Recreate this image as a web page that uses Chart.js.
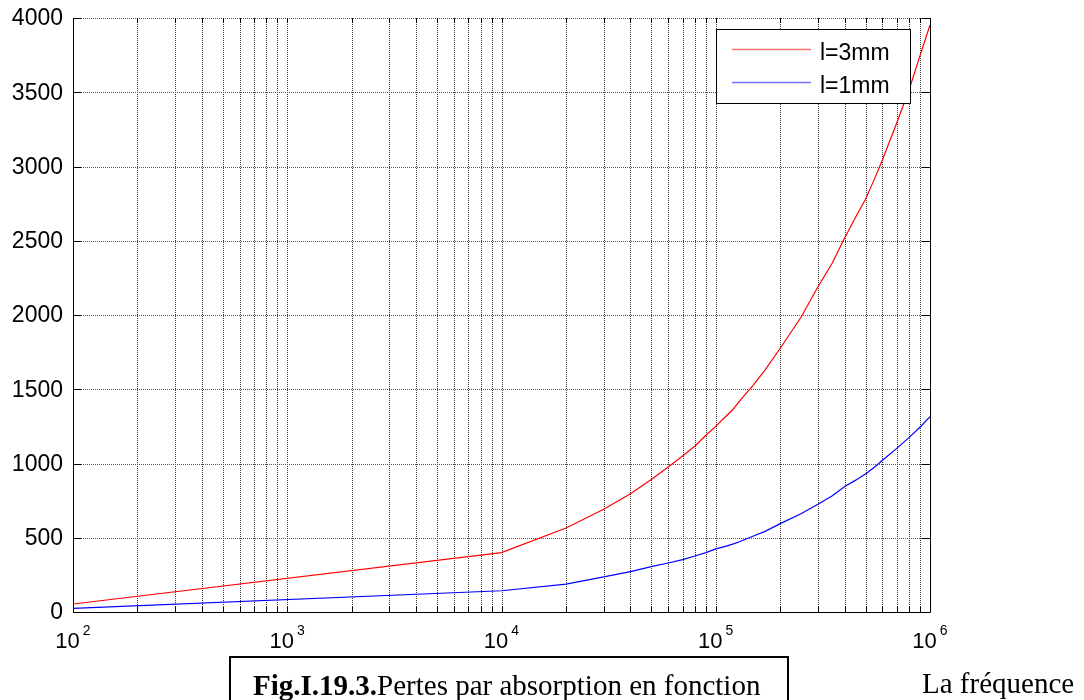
<!DOCTYPE html>
<html>
<head>
<meta charset="utf-8">
<script src="https://cdn.jsdelivr.net/npm/chart.js@4/dist/chart.umd.min.js"></script>
<style>
  html, body { margin: 0; padding: 0; background: #fff; width: 1084px; height: 700px; overflow: hidden; }
  #wrap { position: relative; width: 1084px; height: 700px; }
  canvas { position: absolute; left: 0; top: 0; }
  #caption { position: absolute; left: 229px; top: 656px; width: 556px; height: 60px; border: 2px solid #000; box-sizing: content-box;
    font-family: "Liberation Serif", "Times New Roman", serif; font-size: 29px; color: #000; white-space: nowrap; }
  #caption span.t { position: absolute; left: 22px; top: 11px; }
  #freq { position: absolute; left: 922px; top: 667px; font-family: "Liberation Serif", "Times New Roman", serif; font-size: 29px; color: #000; white-space: nowrap; }
</style>
</head>
<body>
<div id="wrap">
  <canvas id="c" width="1084" height="700"></canvas>
  <div id="caption"><span class="t"><b>Fig.I.19.3.</b>Pertes par absorption en fonction</span></div>
  <div id="freq">La fréquence</div>
</div>
<script>
// ---- data ----
const frequencies = [100, 1e4, 2e4, 3e4, 4e4, 5e4, 6e4, 7e4, 8e4, 9e4, 1e5, 1.1e5, 1.2e5, 1.3e5, 1.5e5, 1.7e5, 2e5, 2.5e5, 3e5, 3.5e5, 4e5, 4.5e5, 5e5, 5.5e5, 6e5, 7e5, 8e5, 9e5, 1e6];
const loss3mm = [54, 400, 566, 692, 797, 892, 977, 1050, 1118, 1190, 1250, 1310, 1362, 1425, 1530, 1630, 1776, 1985, 2190, 2350, 2520, 2660, 2780, 2915, 3045, 3295, 3520, 3750, 3953];
const loss1mm = [25, 143, 188, 236, 272, 305, 330, 353, 377, 400, 425, 440, 457, 475, 512, 543, 595, 662, 725, 783, 845, 888, 930, 975, 1022, 1102, 1176, 1246, 1315];
const seriesLabels = ['l=3mm', 'l=1mm'];
const seriesColors = ['#ff0000', '#0000ff'];
const xMajorExponents = [2, 3, 4, 5, 6];
const xMinorMultipliers = [1, 2, 3, 4, 5, 6, 7, 8, 9];
const yTickValues = [0, 500, 1000, 1500, 2000, 2500, 3000, 3500, 4000];

const xTickValues = [];
xMajorExponents.forEach((e, i) => {
  if (i === xMajorExponents.length - 1) { xTickValues.push(Math.pow(10, e)); return; }
  xMinorMultipliers.forEach(m => xTickValues.push(m * Math.pow(10, e)));
});

const FONT = '"Liberation Sans", Arial, Helvetica, sans-serif';

const framePlugin = {
  id: 'frame',
  beforeDatasetsDraw(chart) {
    const {ctx, chartArea: a, scales: {x, y}} = chart;
    ctx.save();
    ctx.lineWidth = 1;
    ctx.strokeStyle = '#3a3a3a';
    ctx.setLineDash([1, 1]);
    xTickValues.forEach(v => {
      const px = Math.round(x.getPixelForValue(v)) + 0.5;
      ctx.beginPath(); ctx.moveTo(px, a.top); ctx.lineTo(px, a.bottom); ctx.stroke();
    });
    ctx.strokeStyle = '#555';
    yTickValues.forEach(v => {
      const py = Math.round(y.getPixelForValue(v)) + 0.5;
      ctx.beginPath(); ctx.moveTo(a.left, py); ctx.lineTo(a.right, py); ctx.stroke();
    });
    ctx.setLineDash([]);
    ctx.strokeStyle = '#000';
    xTickValues.forEach(v => {
      const px = Math.round(x.getPixelForValue(v)) + 0.5;
      ctx.beginPath(); ctx.moveTo(px, a.bottom); ctx.lineTo(px, a.bottom - 5); ctx.stroke();
      ctx.beginPath(); ctx.moveTo(px, a.top); ctx.lineTo(px, a.top + 5); ctx.stroke();
    });
    yTickValues.forEach(v => {
      const py = Math.round(y.getPixelForValue(v)) + 0.5;
      ctx.beginPath(); ctx.moveTo(a.left, py); ctx.lineTo(a.left + 8, py); ctx.stroke();
      ctx.beginPath(); ctx.moveTo(a.right, py); ctx.lineTo(a.right - 8, py); ctx.stroke();
    });
    const L = Math.round(a.left) + 0.5, R = Math.round(a.right) + 0.5, B = Math.round(a.bottom) + 0.5;
    ctx.beginPath(); ctx.moveTo(L, a.top); ctx.lineTo(L, B); ctx.lineTo(R, B); ctx.lineTo(R, a.top); ctx.stroke();
    ctx.restore();
  },
  afterDraw(chart) {
    const {ctx, chartArea: a, scales: {x, y}} = chart;
    ctx.save();
    ctx.fillStyle = '#000';
    // y tick labels
    ctx.font = '23px ' + FONT;
    ctx.textAlign = 'right';
    ctx.textBaseline = 'middle';
    yTickValues.forEach(v => {
      ctx.fillText(String(v), a.left - 10, y.getPixelForValue(v) + 1);
    });
    // x tick labels 10^n
    xMajorExponents.forEach(e => {
      const px = x.getPixelForValue(Math.pow(10, e));
      ctx.font = '22px ' + FONT;
      const wb = ctx.measureText('10').width;
      ctx.font = '14px ' + FONT;
      const we = ctx.measureText(String(e)).width;
      const gap = 3;
      const start = px - (wb + gap + we) / 2;
      ctx.textAlign = 'left';
      ctx.textBaseline = 'alphabetic';
      ctx.font = '22px ' + FONT;
      ctx.fillText('10', start, a.bottom + 36);
      ctx.font = '14px ' + FONT;
      ctx.fillText(String(e), start + wb + gap, a.bottom + 23);
    });
    // legend
    const bx = a.right - 214, by = a.top + 11, bw = 194, bh = 74;
    ctx.fillStyle = '#fff';
    ctx.fillRect(bx, by, bw, bh);
    ctx.strokeStyle = '#000';
    ctx.lineWidth = 1;
    ctx.strokeRect(Math.round(bx) + 0.5, Math.round(by) + 0.5, bw, bh);
    chart.data.datasets.forEach((ds, i) => {
      const ly = by + 20 + i * 33;
      ctx.strokeStyle = ds.borderColor;
      ctx.globalAlpha = 0.55;
      ctx.lineWidth = 1.5;
      ctx.beginPath(); ctx.moveTo(bx + 16, ly + 0.5); ctx.lineTo(bx + 95, ly + 0.5); ctx.stroke();
      ctx.globalAlpha = 1;
      ctx.fillStyle = '#000';
      ctx.font = '23px ' + FONT;
      ctx.textAlign = 'left';
      ctx.textBaseline = 'alphabetic';
      ctx.fillText(ds.label, bx + 104, ly + 11);
    });
    ctx.restore();
  }
};

new Chart(document.getElementById('c'), {
  type: 'line',
  data: {
    labels: frequencies,
    datasets: [
      { label: seriesLabels[0], data: frequencies.map((f, i) => ({x: f, y: loss3mm[i]})), borderColor: seriesColors[0], borderWidth: 1.2, pointRadius: 0, tension: 0, fill: false },
      { label: seriesLabels[1], data: frequencies.map((f, i) => ({x: f, y: loss1mm[i]})), borderColor: seriesColors[1], borderWidth: 1.2, pointRadius: 0, tension: 0, fill: false }
    ]
  },
  options: {
    responsive: false,
    animation: false,
    layout: { padding: { left: 0, top: 18, right: 154, bottom: 0 } },
    plugins: { legend: { display: false }, tooltip: { enabled: false }, title: { display: false } },
    scales: {
      x: {
        type: 'logarithmic', min: 100, max: 1e6,
        afterBuildTicks: s => { s.ticks = xTickValues.map(v => ({value: v})); },
        afterFit: s => { s.height = 88; s.paddingLeft = 0; s.paddingRight = 0; },
        grid: { display: false, drawTicks: false },
        border: { display: false },
        ticks: { display: false }
      },
      y: {
        min: 0, max: 4000,
        afterBuildTicks: s => { s.ticks = yTickValues.map(v => ({value: v})); },
        afterFit: s => { s.width = 73; s.paddingTop = 0; s.paddingBottom = 0; },
        grid: { display: false, drawTicks: false },
        border: { display: false },
        ticks: { display: false }
      }
    }
  },
  plugins: [framePlugin]
});
</script>
</body>
</html>
